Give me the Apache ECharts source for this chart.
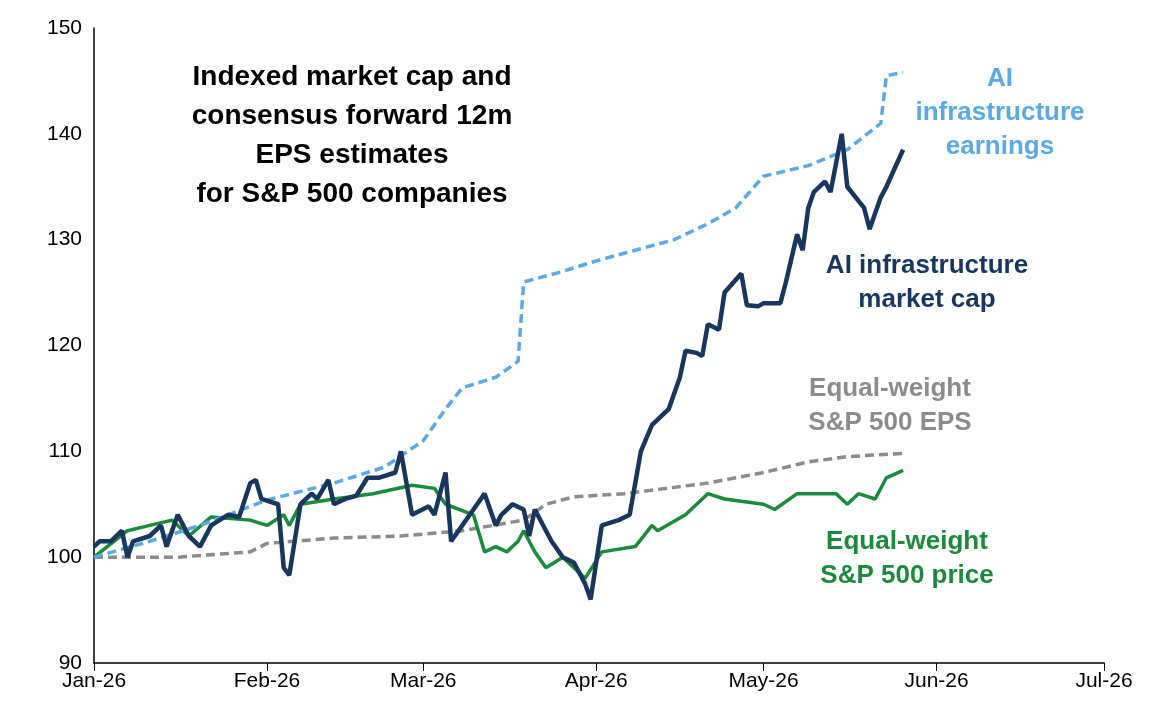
<!DOCTYPE html>
<html>
<head>
<meta charset="utf-8">
<script src="https://cdn.jsdelivr.net/npm/echarts@6/dist/echarts.min.js"></script>
<style>
  html, body { margin: 0; padding: 0; background: #fff; }
  #chart { width: 1166px; height: 724px; }
</style>
</head>
<body>
<div id="chart"></div>
<script>
// 各序列数据
var capDates = ['2026-01-01','2026-01-02','2026-01-04','2026-01-06','2026-01-07','2026-01-08','2026-01-11','2026-01-13','2026-01-14','2026-01-16','2026-01-18','2026-01-20','2026-01-22','2026-01-25','2026-01-27','2026-01-29','2026-01-30','2026-01-31','2026-02-03','2026-02-04','2026-02-05','2026-02-07','2026-02-09','2026-02-10','2026-02-12','2026-02-13','2026-02-15','2026-02-17','2026-02-19','2026-02-21','2026-02-24','2026-02-25','2026-02-27','2026-03-02','2026-03-03','2026-03-05','2026-03-06','2026-03-08','2026-03-10','2026-03-12','2026-03-14','2026-03-15','2026-03-17','2026-03-19','2026-03-20','2026-03-21','2026-03-23','2026-03-24','2026-03-26','2026-03-28','2026-03-30','2026-03-31','2026-04-01','2026-04-02','2026-04-05','2026-04-07','2026-04-09','2026-04-11','2026-04-12','2026-04-14','2026-04-16','2026-04-17','2026-04-19','2026-04-20','2026-04-21','2026-04-23','2026-04-24','2026-04-27','2026-04-28','2026-04-30','2026-05-01','2026-05-04','2026-05-05','2026-05-07','2026-05-08','2026-05-09','2026-05-10','2026-05-12','2026-05-13','2026-05-15','2026-05-16','2026-05-19','2026-05-20','2026-05-22','2026-05-23','2026-05-26'];
var capValues = [101,101.5,101.5,102.5,100,101.5,102,103,101,104,102,101,103,104,103.8,107,107.3,105.5,105,99,98.3,105,106,105.5,107.3,105,105.5,105.8,107.5,107.5,108,110,104,104.8,104,108,101.5,103,104.5,106,103,104,105,104.5,102,104.5,102.5,101.5,100,99.5,97.5,96,99.5,103,103.5,104,110,112.5,113,114,117,119.5,119.3,119,122,121.5,125,126.8,123.8,123.7,124,124,126,130.5,129,133,134.5,135.5,134.5,140,135,133,131,134,135,138.5];

var priceDates = ['2026-01-01','2026-01-07','2026-01-11','2026-01-15','2026-01-18','2026-01-22','2026-01-29','2026-02-01','2026-02-04','2026-02-05','2026-02-07','2026-02-13','2026-02-20','2026-02-27','2026-03-03','2026-03-05','2026-03-10','2026-03-12','2026-03-14','2026-03-16','2026-03-18','2026-03-19','2026-03-21','2026-03-23','2026-03-26','2026-03-28','2026-03-30','2026-04-02','2026-04-08','2026-04-11','2026-04-12','2026-04-17','2026-04-21','2026-04-24','2026-05-01','2026-05-03','2026-05-07','2026-05-14','2026-05-16','2026-05-18','2026-05-21','2026-05-23','2026-05-26'];
var priceValues = [100,102.5,103,103.5,102,103.8,103.5,103,104,103,105,105.5,106,106.8,106.5,105,104,100.5,101,100.5,101.5,102.5,100.5,99,100,99,98,100.5,101,103,102.5,104,106,105.5,105,104.5,106,106,105,106,105.5,107.5,108.2];

var epsDates = ['2026-01-01','2026-01-16','2026-01-29','2026-02-01','2026-02-13','2026-02-25','2026-03-08','2026-03-19','2026-03-23','2026-03-28','2026-04-06','2026-04-21','2026-05-01','2026-05-09','2026-05-16','2026-05-26'];
var epsValues = [100,100,100.5,101.3,101.8,102,102.5,103.5,105,105.7,106,107,108,109,109.5,109.8];

var aiEpsDates = ['2026-01-01','2026-01-11','2026-01-20','2026-02-01','2026-02-13','2026-02-22','2026-03-01','2026-03-05','2026-03-08','2026-03-14','2026-03-18','2026-03-19','2026-03-26','2026-04-01','2026-04-08','2026-04-15','2026-04-21','2026-04-26','2026-05-01','2026-05-09','2026-05-16','2026-05-22','2026-05-23','2026-05-26'];
var aiEpsValues = [100,101.5,103,105.4,107,108.5,111,114,116,117,118.5,126,127,128,129,130,131.5,133,136,137,138.5,141,145.5,145.8];

var monthNames = ['Jan','Feb','Mar','Apr','May','Jun','Jul','Aug','Sep','Oct','Nov','Dec'];

function zip(d, v) {
    return d.map(function(x, i) { return [x, v[i]]; });
}

var chart = echarts.init(document.getElementById('chart'));
var font = 'Liberation Sans, Arial, sans-serif';

// 居中文字标注
function label(lines, x, y, color, size, lh) {
    return {
        type: 'text', x: x, y: y,
        style: { text: lines, fill: color, font: 'bold ' + (size || 26) + 'px ' + font, textAlign: 'center', textVerticalAlign: 'top', lineHeight: lh || 34 }
    };
}

var option = {
    animation: false,
    grid: { left: 94, right: 62, top: 28, bottom: 61 },
    xAxis: {
        type: 'time',
        min: '2026-01-01',
        max: '2026-07-01',
        minInterval: 28 * 86400000,
        maxInterval: 31 * 86400000,
        axisLine: { lineStyle: { color: '#000', width: 1.5 } },
        axisTick: { show: true, length: 8, lineStyle: { color: '#000' } },
        splitLine: { show: false },
        axisLabel: {
            color: '#000', fontSize: 21, fontFamily: font, showMaxLabel: true, showMinLabel: true,
            formatter: function(v) { var d = new Date(v); return monthNames[d.getMonth()] + '-26'; }
        }
    },
    yAxis: {
        type: 'value', min: 90, max: 150, interval: 10,
        axisLine: { show: true, lineStyle: { color: '#000', width: 1.5 } },
        axisTick: { show: false },
        splitLine: { show: false },
        axisLabel: { color: '#000', fontSize: 21, fontFamily: font, margin: 12 }
    },
    graphic: [
        label('Indexed market cap and\nconsensus forward 12m\nEPS estimates\nfor S&P 500 companies', 352, 58, '#000', 28, 39),
        label('AI\ninfrastructure\nearnings', 1000, 62, '#5aaae6'),
        label('AI infrastructure\nmarket cap', 927, 249, '#17375e'),
        label('Equal-weight\nS&P 500 EPS', 890, 372, '#8c8c8c'),
        label('Equal-weight\nS&P 500 price', 907, 525, '#1a8a3c')
    ],
    series: [
        {
            name: 'Equal-weight S&P 500 EPS', type: 'line', showSymbol: false,
            data: zip(epsDates, epsValues),
            lineStyle: { color: '#8c8c8c', width: 3.5, type: [9, 5] }
        },
        {
            name: 'Equal-weight S&P 500 price', type: 'line', showSymbol: false,
            data: zip(priceDates, priceValues),
            lineStyle: { color: '#1a8a3c', width: 3.5 }
        },
        {
            name: 'AI infrastructure earnings', type: 'line', showSymbol: false,
            data: zip(aiEpsDates, aiEpsValues),
            lineStyle: { color: '#5aaae6', width: 3.5, type: [9, 5] }
        },
        {
            name: 'AI infrastructure market cap', type: 'line', showSymbol: false,
            data: zip(capDates, capValues),
            lineStyle: { color: '#17375e', width: 4.5 }
        }
    ]
};
chart.setOption(option);
</script>
</body>
</html>
